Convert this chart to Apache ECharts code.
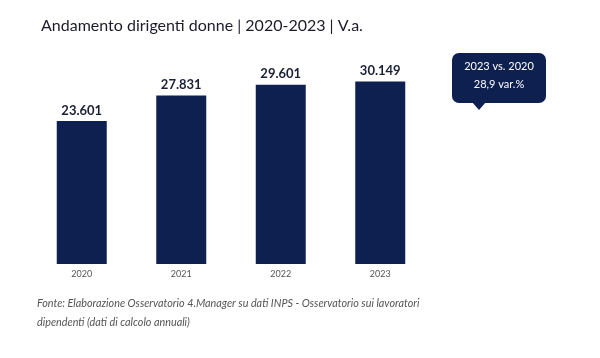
<!DOCTYPE html>
<html><head><meta charset="utf-8">
<script src="https://cdn.jsdelivr.net/npm/echarts@6/dist/echarts.min.js"></script>
<style>html,body{margin:0;padding:0;background:#fff}#c{width:600px;height:358px}</style>
</head><body><div id="c"></div>
<script>
const categories = ['2020', '2021', '2022', '2023'];
const values = [23601, 27831, 29601, 30149];
const titleText = 'Andamento dirigenti donne | 2020-2023 | V.a.';
const calloutLines = ['2023 vs. 2020', '28,9 var.%'];
const sourceLines = ['Fonte: Elaborazione Osservatorio 4.Manager su dati INPS - Osservatorio sui lavoratori', 'dipendenti (dati di calcolo annuali)'];

const navy = '#0d2050';
const fmt = v => String(v).replace(/\B(?=(\d{3})+(?!\d))/g, '.');

const chart = echarts.init(document.getElementById('c'), null, {renderer: 'canvas'});
chart.setOption({
  animation: false,
  backgroundColor: '#fff',
  title: {
    text: titleText, left: 36, top: 13,
    textStyle: {fontFamily: 'Lato', fontWeight: 'normal', fontSize: 16, color: '#1b1b2b'}
  },
  grid: {left: 32, width: 398, top: 52, bottom: 94},
  xAxis: {
    type: 'category', data: categories,
    axisLine: {show: false}, axisTick: {show: false},
    axisLabel: {color: '#555', fontSize: 9, fontFamily: 'Lato', margin: 6}
  },
  yAxis: {type: 'value', min: 0, max: 35000, show: false, splitLine: {show: false}},
  series: [{
    type: 'bar', data: values, barWidth: 50,
    itemStyle: {color: navy},
    label: {show: true, position: 'top', distance: 4, formatter: p => fmt(p.value),
      fontFamily: 'Lato', fontWeight: 'bold', fontSize: 13, color: '#1b1f35'}
  }],
  graphic: [
    {type: 'rect', shape: {x: 452, y: 53, width: 94, height: 50, r: 7}, style: {fill: navy}},
    {type: 'polygon', shape: {points: [[472, 102], [486, 102], [479, 110]]}, style: {fill: navy}},
    {type: 'text', style: {text: calloutLines[0], x: 499, y: 66, align: 'center', verticalAlign: 'middle',
      fill: '#fff', font: '11px Lato'}},
    {type: 'text', style: {text: calloutLines[1], x: 499, y: 84, align: 'center', verticalAlign: 'middle',
      fill: '#fff', font: '11px Lato'}},
    {type: 'text', style: {text: sourceLines[0], x: 37, y: 304, verticalAlign: 'middle',
      fill: '#555', font: 'italic 10.8px Lato'}},
    {type: 'text', style: {text: sourceLines[1], x: 37, y: 323, verticalAlign: 'middle',
      fill: '#555', font: 'italic 10.8px Lato'}}
  ]
});
</script></body></html>
